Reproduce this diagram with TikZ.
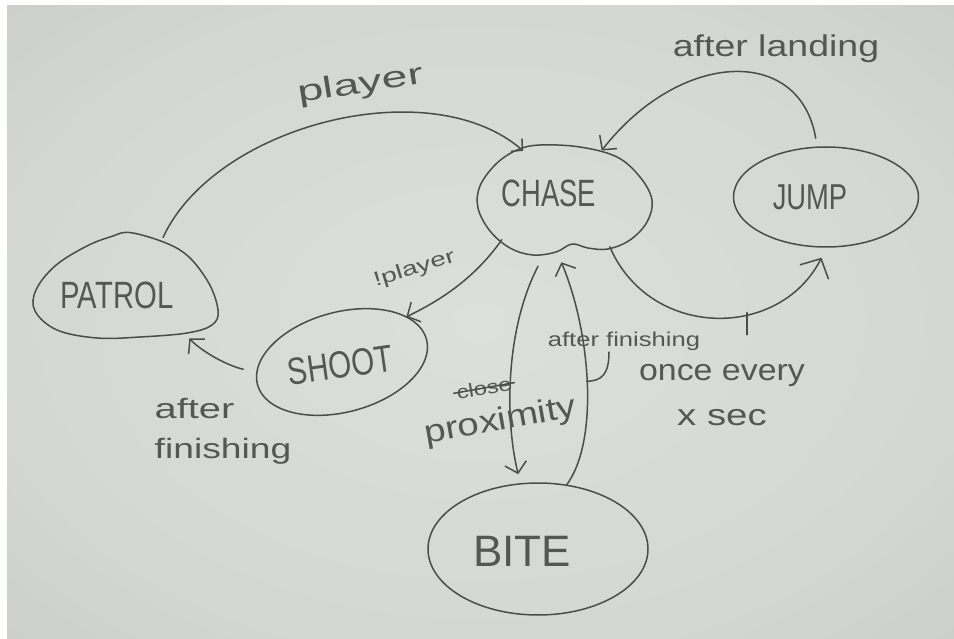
\documentclass[tikz,border=0pt]{standalone}
\usepackage{fontspec}
\usepackage{graphicx}
\setmainfont{Liberation Sans}
\usetikzlibrary{arrows.meta,shapes.geometric,calc}
\definecolor{pencil}{HTML}{4B4D4C}
\definecolor{pencilt}{HTML}{555756}
\definecolor{paperA}{HTML}{DDDFDC}
\definecolor{paperB}{HTML}{D5D7D4}
\definecolor{paperC}{HTML}{C3C5C2}
\definecolor{paperD}{HTML}{A9AAA7}
\pgfdeclareradialshading{paperglow}{\pgfpoint{0bp}{0bp}}{color(0bp)=(paperA); color(25bp)=(paperB); color(48bp)=(paperC); color(71bp)=(paperD)}
\newcommand\hwx[2]{\scalebox{#1}[1]{#2}}
\begin{document}
\begin{tikzpicture}[x=1pt, y=-1pt,
  pencil/.style={draw=pencil, line width=1.5pt, line cap=round, line join=round},
  edge/.style={pencil, -{Straight Barb[length=10pt,width=22pt]}},
  bigedge/.style={pencil, -{Straight Barb[length=15pt,width=32pt]}},
  smalledge/.style={pencil, -{Straight Barb[length=8pt,width=17pt]}},
  state/.style={ellipse, inner sep=0pt, outer sep=0pt},
  drawnstate/.style={state, pencil},
  statetext/.style={text=pencilt, inner sep=0pt},
  lbl/.style={text=pencilt, inner sep=0pt}]
\useasboundingbox (0,0) rectangle (954,639);
\fill[white] (0,0) rectangle (954,639);
\shade[shading=paperglow] (7,6) rectangle (954,639);

% states
\node[state, minimum width=185pt, minimum height=105pt] (patrol) at (125.5,285.5) {};
\node[state, minimum width=177pt, minimum height=110pt] (chase) at (563,200) {};
\node[drawnstate, minimum width=185pt, minimum height=100pt] (jump) at (826,197) {};
\node[drawnstate, rotate=15, minimum width=175pt, minimum height=100pt] (shoot) at (342,362) {};
\node[drawnstate, minimum width=220pt, minimum height=132pt] (bite) at (538,549) {};

\draw[pencil] plot[smooth cycle, tension=0.6] coordinates {(133,233) (180,250) (207,280) (218,310) (212,325) (187,333) (140,337) (97,338) (57,330) (35,311) (36,290) (55,266) (85,247) (110,237)};
\draw[pencil] plot[smooth cycle, tension=0.6] coordinates {(517,150) (540,145) (580,147) (617,157) (640,177) (652,200) (647,222) (630,240) (608,249) (588,248) (572,244) (556,252) (533,255) (510,248) (490,231) (478,208) (480,186) (496,164)};

\node[statetext, font=\fontsize{38}{40}\selectfont] (chaset) at (549,193) {\hwx{0.72}{CHASE}};
\node[statetext, font=\fontsize{38}{40}\selectfont] (patrolt) at (117,295) {\hwx{0.77}{PATROL}};
\node[statetext, font=\fontsize{36}{40}\selectfont] (jumpt) at (810,197) {\hwx{0.76}{JUMP}};
\node[statetext, rotate=8, font=\fontsize{38}{40}\selectfont] (shoott) at (340,365) {\hwx{0.78}{SHOOT}};
\node[statetext, font=\fontsize{44}{46}\selectfont] (bitet) at (522,551) {BITE};

% transitions
\draw[smalledge] (patrol.52) .. controls (215,125) and (430,70) .. (chase.129);
\draw[edge, shorten <=9pt] (jump.100) .. controls (800,45) and (680,50) .. (chase.52);
\draw[bigedge, shorten >=12pt] (chase.315) .. controls (650,340) and (780,340) .. (jump.271) coordinate[pos=0.62] (tick);
\draw[edge] (chase.213) .. controls (470,285) and (430,305) .. (shoot.20);
\draw[edge, shorten <=14pt, shorten >=14pt] (shoot.172) .. controls (225,365) and (200,350) .. (patrol.322);
\draw[edge, shorten <=14pt, shorten >=10pt] (chase.251) .. controls (505,330) and (505,420) .. (bite.105);
\draw[edge, shorten >=8pt] (bite.66) .. controls (600,440) and (590,330) .. (chase.265) coordinate[pos=0.5] (hook);

% labels
\node[lbl, anchor=base, rotate=9, font=\fontsize{30}{36}\selectfont] (lplayer) at (362,93) {\hwx{1.55}{player}};
\node[lbl, anchor=base, font=\fontsize{30}{36}\selectfont] (llanding) at (776,57) {\hwx{1.25}{after landing}};
\node[lbl, align=center, font=\fontsize{30}{45}\selectfont] (lonce) at (722,395) {\hwx{1.13}{once every}\\\hwx{1.28}{x sec}};
\node[lbl, anchor=base, rotate=17, font=\fontsize{20}{24}\selectfont] (lnotplayer) at (416,274) {\hwx{1.4}{!player}};
\node[lbl, align=left, font=\fontsize{28}{40}\selectfont] (lshootdone) at (223,431) {\hwx{1.42}{after}\\\hwx{1.33}{finishing}};
\node[lbl, anchor=base, rotate=10, font=\fontsize{32}{36}\selectfont] (lprox) at (502,430) {\hwx{1.2}{proximity}};
\node[lbl, rotate=10, font=\fontsize{19}{22}\selectfont] (lstruck) at (484,388) {\hwx{1.25}{close}};
\draw[pencil, shorten <=-3pt, shorten >=-3pt] (lstruck.west) -- (lstruck.east);
\node[lbl, anchor=base, font=\fontsize{20}{24}\selectfont] (lbitedone) at (624,346) {\hwx{1.28}{after finishing}};

% leader marks
\coordinate (tickend) at ($(tick)+(0,22)$);
\draw[pencil] (tick) -- (tickend);
\coordinate (hooktop) at (609,352);
\draw[pencil] (hook) .. controls (602,381) and (609,374) .. (hooktop);
\end{tikzpicture}
\end{document}
